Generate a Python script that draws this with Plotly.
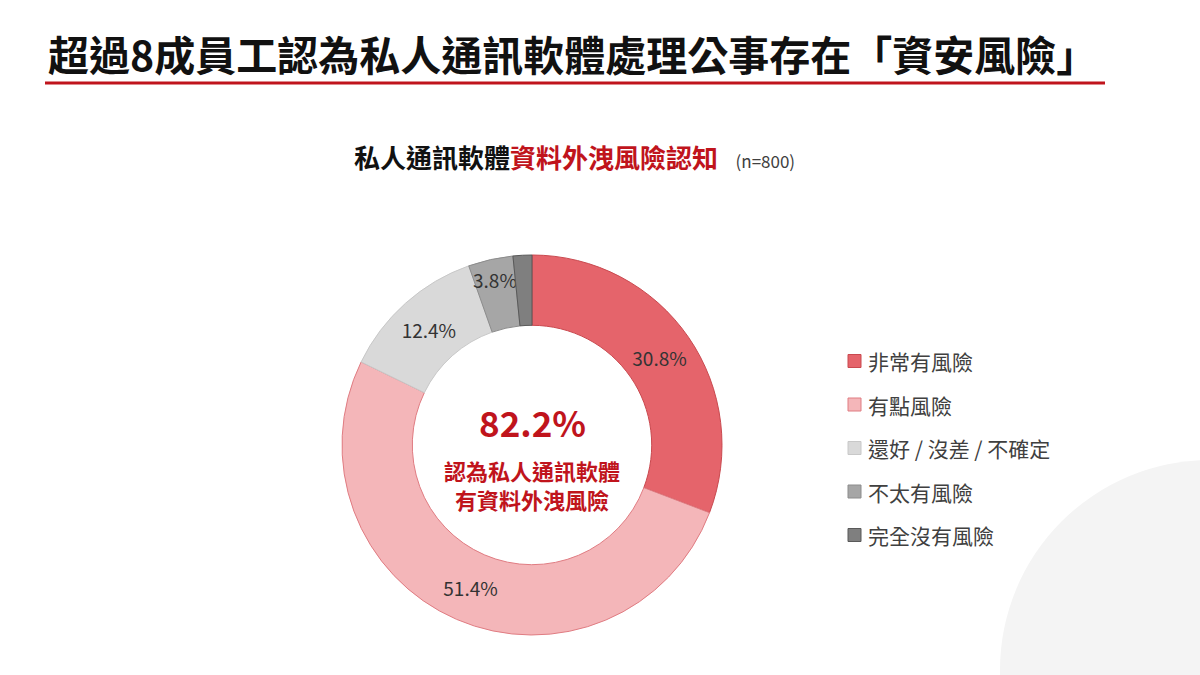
import plotly.graph_objects as go

labels = ["非常有風險", "有點風險", "還好 / 沒差 / 不確定", "不太有風險", "完全沒有風險"]
values = [30.8, 51.4, 12.4, 3.8, 1.6]
colors = ["#E5646B", "#F4B6B9", "#D9D9D9", "#A6A6A6", "#7F7F7F"]
edges = ["#C9494F", "#E07C82", "#C8C8C8", "#8C8C8C", "#595959"]
texts = [f"{v}%" for v in values[:4]] + [""]

W, H = 1200, 675
cx, cy, r = 532, 445, 190

fig = go.Figure(go.Pie(
    labels=labels, values=values, sort=False, direction="clockwise", rotation=0,
    hole=0.63, marker=dict(colors=colors, line=dict(color=edges, width=1)),
    text=texts, texttemplate="%{text}", textinfo="text", textposition="inside",
    insidetextorientation="horizontal",
    textfont=dict(size=19, color="#333333", family="Noto Sans CJK TC"),
    domain=dict(x=[(cx - r) / W, (cx + r) / W], y=[(H - cy - r) / H, (H - cy + r) / H]),
    showlegend=False, hoverinfo="label+value",
))

shapes = [
    dict(type="circle", xref="paper", yref="paper", x0=(1000) / W, x1=(1420) / W,
         y0=(H - 880) / H, y1=(H - 460) / H, fillcolor="#F4F4F4", line=dict(width=0), layer="below"),
    dict(type="line", xref="paper", yref="paper", x0=45 / W, x1=1105 / W, y0=(H - 83) / H, y1=(H - 83) / H,
         line=dict(color="#C0141C", width=3)),
]
ann = [
    dict(x=46 / W, y=(H - 53) / H, xanchor="left", yanchor="middle",
         text="<b>超過8成員工認為私人通訊軟體處理公事存在「資安風險」</b>",
         font=dict(size=41, color="#111111")),
    dict(x=574 / W, y=(H - 156) / H, xanchor="center", yanchor="middle",
         text="<b>私人通訊軟體</b><b><span style='color:#C0141C'>資料外洩風險認知</span></b>   <span style='font-size:17px;color:#404040'>(n=800)</span>",
         font=dict(size=26, color="#111111")),
    dict(x=cx / W, y=(H - 449) / H, xanchor="center", yanchor="bottom",
         text="<b>82.2%</b>", font=dict(size=35, color="#C0141C")),
    dict(x=cx / W, y=(H - 452) / H, xanchor="center", yanchor="top",
         text="<b>認為私人通訊軟體<br>有資料外洩風險</b>", font=dict(size=22, color="#C0141C")),
]
for i, (lab, c, e) in enumerate(zip(labels, colors, edges)):
    y = 361 + i * 43.5
    shapes.append(dict(type="rect", xref="paper", yref="paper", x0=848 / W, x1=861 / W,
                       y0=(H - y - 6.5) / H, y1=(H - y + 6.5) / H, fillcolor=c, line=dict(color=e, width=1)))
    ann.append(dict(x=866 / W, y=(H - y) / H, xanchor="left", yanchor="middle", text=lab,
                    font=dict(size=21, color="#404040")))
for a in ann:
    a.update(xref="paper", yref="paper", showarrow=False)

fig.update_layout(width=W, height=H, margin=dict(l=0, r=0, t=0, b=0),
                  paper_bgcolor="white", plot_bgcolor="white",
                  uniformtext=dict(minsize=19, mode="show"),
                  font=dict(family="Noto Sans CJK TC"), shapes=shapes, annotations=ann)
fig.write_html("out.html", config={"displayModeBar": False},
               post_script="document.body.style.margin='0';document.body.style.overflow='hidden';")
